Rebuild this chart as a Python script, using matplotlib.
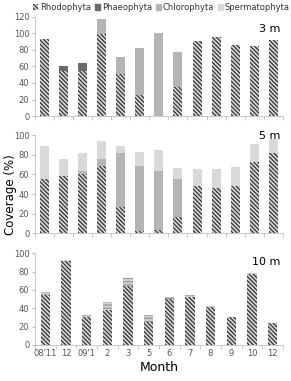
import matplotlib.pyplot as plt
import numpy as np
from matplotlib.patches import Patch

# 3 m (13 sampling bars)
rho_3 = [93, 54, 55, 99, 51, 26, 0, 35, 91, 96, 86, 85, 92]
pha_3 = [0, 6, 9, 0, 0, 0, 0, 0, 0, 0, 0, 0, 0]
chl_3 = [0, 0, 0, 18, 20, 56, 100, 42, 0, 0, 0, 0, 0]
spe_3 = [0] * 13

# 5 m
rho_5 = [55, 58, 60, 69, 27, 2, 3, 17, 48, 46, 48, 73, 82]
pha_5 = [0] * 13
chl_5 = [0, 0, 3, 7, 55, 67, 61, 38, 0, 0, 0, 0, 0]
spe_5 = [34, 18, 19, 18, 7, 14, 21, 12, 18, 20, 20, 18, 14]

# 10 m (12 months)
months = ["08'11", "12", "09'1", "2", "3", "5", "6", "7", "8", "9", "10", "12"]
rho_10 = [54, 91, 30, 38, 64, 25, 50, 52, 41, 30, 77, 24]
chl_10 = [4, 2, 3, 9, 9, 8, 2, 2, 1, 0, 1, 0]

RHO = dict(facecolor="#d8d8d8", edgecolor="#333333", hatch="\\\\\\\\\\\\\\\\", linewidth=0)
PHA = dict(color="#6b6b6b")
CHL = dict(color="#b4b4b4")
SPE = dict(color="#d9d9d9")

plt.rcParams["hatch.linewidth"] = 0.9
fig = plt.figure(figsize=(2.91, 3.81), dpi=100)

def stack(ax, rho, pha, chl, spe, w, chl_style=CHL):
    x = np.arange(len(rho))
    b = np.zeros(len(rho))
    ax.bar(x, rho, w, bottom=b, **RHO)
    b += rho
    if pha is not None:
        ax.bar(x, pha, w, bottom=b, **PHA)
        b += pha
    ax.bar(x, chl, w, bottom=b, **chl_style)
    b += chl
    if spe is not None:
        ax.bar(x, spe, w, bottom=b, **SPE)
    ax.set_xlim(-0.5, len(rho) - 0.5)
    ax.set_xticks(x)
    ax.set_xticks(np.arange(len(rho) + 1) - 0.5, minor=True)
    ax.tick_params(axis="x", which="major", length=0)
    ax.tick_params(axis="x", which="minor", length=3, color="#bfbfbf", direction="out")
    ax.tick_params(axis="y", length=2, color="#bfbfbf", labelsize=6, labelcolor="#555555", pad=2)
    for s in ["top", "right"]:
        ax.spines[s].set_visible(False)
    for s in ["left", "bottom"]:
        ax.spines[s].set_color("#bfbfbf")
        ax.spines[s].set_linewidth(0.6)

ax1 = fig.add_axes([0.120, 0.6955, 0.852, 0.260])
stack(ax1, rho_3, pha_3, chl_3, spe_3, 0.47)
ax1.set_ylim(0, 120)
ax1.set_yticks(range(0, 121, 20))
ax1.set_xticklabels([])
ax1.text(0.99, 0.93, "3 m", transform=ax1.transAxes, ha="right", va="top", fontsize=8)

ax2 = fig.add_axes([0.120, 0.388, 0.852, 0.257])
stack(ax2, rho_5, None, chl_5, spe_5, 0.47)
ax2.set_ylim(0, 100)
ax2.set_yticks(range(0, 101, 20))
ax2.set_xticklabels([])
ax2.text(0.99, 1.04, "5 m", transform=ax2.transAxes, ha="right", va="top", fontsize=8)
fig.text(0.035, 0.49, "Coverage (%)", rotation=90, ha="center", va="center", fontsize=8.5)

chl10 = dict(facecolor="#cfcfcf", edgecolor="#9a9a9a", hatch="-----", linewidth=0)
ax3 = fig.add_axes([0.120, 0.0945, 0.852, 0.241])
stack(ax3, rho_10, None, chl_10, None, 0.45, chl_style=chl10)
ax3.set_ylim(0, 100)
ax3.set_yticks(range(0, 101, 20))
ax3.set_xticklabels(months, fontsize=6, color="#555555")
ax3.tick_params(axis="x", which="major", pad=3)
ax3.text(0.99, 0.96, "10 m", transform=ax3.transAxes, ha="right", va="top", fontsize=8)
ax3.set_xlabel("Month", fontsize=9, labelpad=2)

handles = [Patch(**RHO), Patch(**PHA), Patch(**CHL), Patch(**SPE)]
labels = ["Rhodophyta", "Phaeophyta", "Chlorophyta", "Spermatophyta"]
fig.legend(handles, labels, loc="upper center", bbox_to_anchor=(0.555, 1.012), ncol=4,
           frameon=False, fontsize=6, handlelength=0.6, handleheight=0.6,
           handletextpad=0.2, columnspacing=0.5, labelcolor="#333333")

fig.savefig("out.png", dpi=100)
